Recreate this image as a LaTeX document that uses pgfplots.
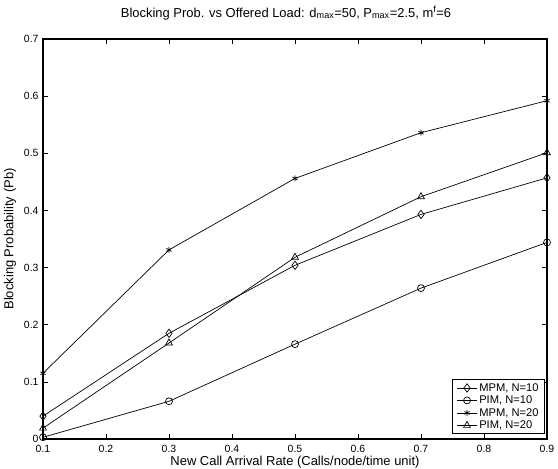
\documentclass[border=0pt]{standalone}
\usepackage{pgfplots}
\pgfplotsset{compat=1.18}
\usepackage{fontspec}
\setmainfont{Liberation Sans}
\begin{document}
\begin{tikzpicture}
\begin{axis}[
    scale only axis,
    width=504bp, height=400bp,
    xmin=0.1, xmax=0.9,
    ymin=0, ymax=0.7,
    xtick={0.1,0.2,...,0.9},
    ytick={0,0.1,...,0.7},
    tick align=inside,
    tick style={black, line width=0.6pt},
    major tick length=5bp,
    axis line style={line width=1.3bp},
    every tick label/.style={font=\fontsize{10.5}{12}\selectfont},
    /pgf/number format/assume math mode=true,
    xticklabel style={/pgf/number format/fixed, anchor=base, yshift=-14bp},
    yticklabel style={/pgf/number format/fixed, xshift=-1bp},
    scaled ticks=false,
    xlabel={New Call Arrival Rate (Calls/node/time unit)},
    ylabel={Blocking Probability (Pb)},
    label style={font=\fontsize{13}{15}\selectfont},
    xlabel style={at={(axis description cs:0.5,0)}, anchor=base, yshift=-26.5bp},
    ylabel style={at={(axis description cs:0,0.5)}, anchor=center, yshift=33bp},
    title={Blocking Prob. vs Offered Load: d$_{\mathrm{max}}$=50, P$_{\mathrm{max}}$=2.5, m$^{\mathrm{f}}$=6},
    title style={font=\fontsize{13}{15}\selectfont, at={(axis description cs:0.5,1)},
        anchor=base, yshift=16bp, xshift=-9bp},
    legend style={at={(axis description cs:1,0)}, anchor=south east, xshift=-2bp, yshift=5bp,
        font=\fontsize{11.2}{12}\selectfont, cells={anchor=west},
        draw=black, line width=1bp, inner xsep=4bp, inner ysep=1.5pt, row sep=-0.8pt},
    legend cell align=left,
    legend image code/.code={
        \draw[mark repeat=2, mark phase=2] plot coordinates {(0cm,0cm) (0.35cm,0cm) (0.7cm,0cm)};
    },
    every axis plot/.append style={black, line width=0.7bp, mark size=3.5pt},
]
\addplot[mark=diamond, mark size=4.2pt] coordinates {
    (0.1,0.040) (0.3,0.185) (0.5,0.304) (0.7,0.393) (0.9,0.457)
};
\addlegendentry{MPM, N=10}
\addplot[mark=o, mark size=3.5pt] coordinates {
    (0.1,0.003) (0.3,0.066) (0.5,0.166) (0.7,0.264) (0.9,0.344)
};
\addlegendentry{PIM, N=10}
\addplot[mark=asterisk, mark size=3pt] coordinates {
    (0.1,0.115) (0.3,0.331) (0.5,0.456) (0.7,0.536) (0.9,0.592)
};
\addlegendentry{MPM, N=20}
\addplot[mark=triangle, mark size=4pt] coordinates {
    (0.1,0.019) (0.3,0.168) (0.5,0.318) (0.7,0.424) (0.9,0.501)
};
\addlegendentry{PIM, N=20}
\end{axis}
\pgfresetboundingbox
\path ([xshift=-43bp,yshift=-30bp]current axis.south west) rectangle ([xshift=11bp,yshift=39bp]current axis.north east);
\end{tikzpicture}
\end{document}
